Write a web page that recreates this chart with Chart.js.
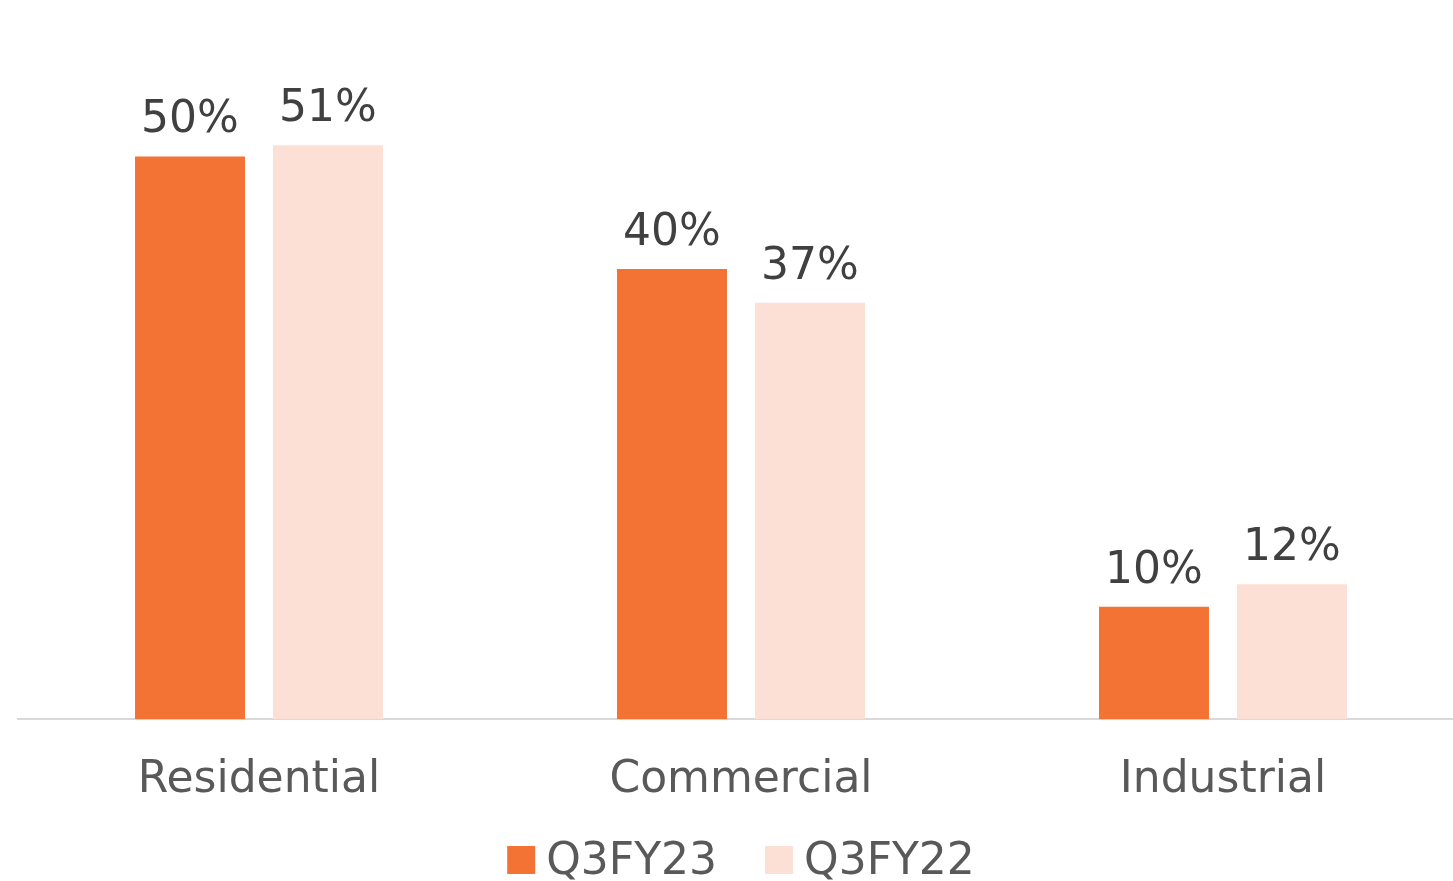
<!DOCTYPE html>
<html>
<head>
<meta charset="utf-8">
<script src="https://cdn.jsdelivr.net/npm/chart.js@4"></script>
<style>
  html, body { margin: 0; padding: 0; background: #fff; overflow: hidden; }
  #wrap { width: 1464px; height: 881px; }
</style>
</head>
<body>
<div id="wrap"><canvas id="chart"></canvas></div>
<script>
const categories = ['Residential', 'Commercial', 'Industrial'];
const seriesNames = ['Q3FY23', 'Q3FY22'];
const q3fy23 = [50, 40, 10];
const q3fy22 = [51, 37, 12];

const ORANGE = '#F37335';
const PEACH = '#FCDFD5';
const FONT = '"DejaVu Sans", sans-serif';

// etiquetas de valor em cima das barras
const valueLabels = {
    id: 'valueLabels',
    afterDatasetsDraw(chart) {
        const ctx = chart.ctx;
        ctx.save();
        ctx.font = '44px ' + FONT;
        ctx.fillStyle = '#404040';
        ctx.textAlign = 'center';
        ctx.textBaseline = 'alphabetic';
        chart.data.datasets.forEach((ds, i) => {
            chart.getDatasetMeta(i).data.forEach((bar, j) => {
                ctx.fillText(ds.data[j] + '%', bar.x, bar.y - 24);
            });
        });
        ctx.restore();
    }
};

// legenda em baixo, com espaçamento igual ao original
const bottomLegend = {
    id: 'bottomLegend',
    afterDraw(chart) {
        const ctx = chart.ctx;
        const box = 28, gapText = 11, gapItem = 48, y = 860;
        ctx.save();
        ctx.font = '44px ' + FONT;
        ctx.textBaseline = 'middle';
        const items = chart.data.datasets.map(ds => ({
            text: ds.label, color: ds.backgroundColor, w: ctx.measureText(ds.label).width
        }));
        const total = items.reduce((s, it) => s + box + gapText + it.w, 0) + gapItem * (items.length - 1);
        let x = (chart.chartArea.left + chart.chartArea.right) / 2 - total / 2;
        items.forEach(it => {
            ctx.fillStyle = it.color;
            ctx.fillRect(x, y - box / 2, box, box);
            ctx.fillStyle = '#595959';
            ctx.fillText(it.text, x + box + gapText, y + 3);
            x += box + gapText + it.w + gapItem;
        });
        ctx.restore();
    }
};

new Chart(document.getElementById('chart'), {
    type: 'bar',
    data: {
        labels: categories,
        datasets: [
            { label: seriesNames[0], data: q3fy23, backgroundColor: ORANGE },
            { label: seriesNames[1], data: q3fy22, backgroundColor: PEACH }
        ]
    },
    options: {
        responsive: true,
        maintainAspectRatio: false,
        animation: false,
        categoryPercentage: 0.5726,
        barPercentage: 0.797,
        layout: { padding: { left: 18, right: 0, top: 0, bottom: 47 } },
        plugins: {
            legend: { display: false },
            tooltip: { enabled: false }
        },
        scales: {
            x: {
                grid: { display: false },
                border: { color: '#D9D9D9', width: 2 },
                ticks: { color: '#595959', font: { size: 44, family: FONT }, padding: 27 }
            },
            y: {
                display: false,
                min: 0,
                max: 63.9
            }
        }
    },
    plugins: [valueLabels, bottomLegend]
});
</script>
</body>
</html>
